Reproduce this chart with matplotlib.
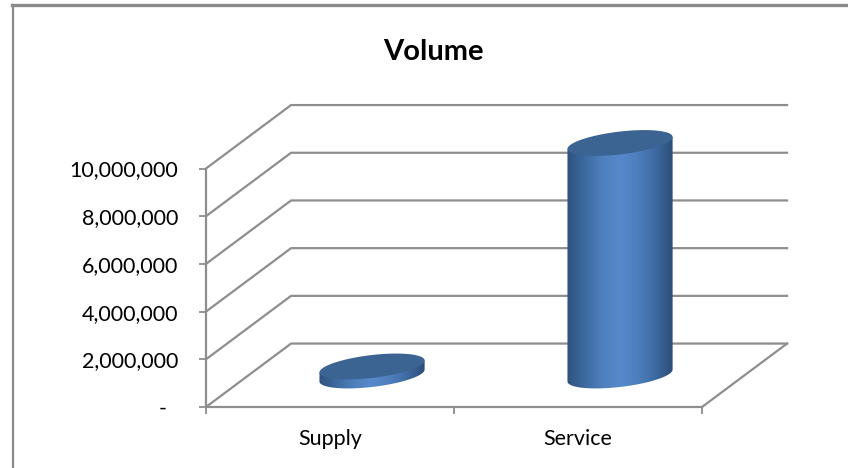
import numpy as np
import matplotlib
matplotlib.use("Agg")
import matplotlib.pyplot as plt
from matplotlib.colors import LinearSegmentedColormap
from matplotlib.lines import Line2D
from matplotlib.patches import Polygon

categories = ["Supply", "Service"]
volume = [380000, 9750000]
y_ticks = [0, 2000000, 4000000, 6000000, 8000000, 10000000]
y_labels = ["-  ", "2,000,000", "4,000,000", "6,000,000", "8,000,000", "10,000,000"]

GRID = "#8e8e8e"
plt.rcParams["font.family"] = ["Lato", "DejaVu Sans"]

# oblique depth of the fake 3d box, in data units
depth_x = 0.343
depth_y = 2660000
base_y = 1320000
cyl_rx = 0.212
cyl_ry = 480000
cyl_skew = 250000

fig = plt.figure(figsize=(8.48, 4.68), dpi=100)
ax = fig.add_axes([0, 0, 1, 1])
ax.patch.set_alpha(0)

# back wall gridlines and floor
for v in y_ticks:
    ax.plot([0, depth_x, 2 + depth_x], [v, v + depth_y, v + depth_y], color=GRID, lw=1.6, zorder=1)
ax.plot([2, 2 + depth_x], [0, depth_y], color=GRID, lw=1.6, zorder=1)

shade = LinearSegmentedColormap.from_list(
    "cyl", ["#2f5380", "#3d6aa0", "#4f80bd", "#5689cb", "#4d7fbd", "#3e6ba3", "#2c4d76"])
grad = np.linspace(0, 1, 200).reshape(1, -1)

t = np.linspace(0, 2 * np.pi, 200)
for i, h in enumerate(volume):
    xc = i + 0.5 + depth_x / 2 - 0.002
    ex = cyl_rx * np.cos(t)
    ey = cyl_skew * np.cos(t) + cyl_ry * np.sin(t)
    lower = np.sin(t) < 0
    # walk the outline from the left edge under the base to the right edge
    order = np.argsort(ex[lower])
    lx, ly = ex[lower][order], ey[lower][order]
    body_x = np.r_[xc + lx, xc + cyl_rx, xc - cyl_rx]
    body_y = np.r_[base_y + ly, base_y + h + cyl_skew, base_y + h - cyl_skew]
    body = Polygon(np.c_[body_x, body_y], closed=True, fc="none", ec="none", transform=ax.transData)
    ax.add_patch(body)
    im = ax.imshow(grad, cmap=shade, aspect="auto", zorder=3, interpolation="bilinear",
                   extent=[xc - cyl_rx, xc + cyl_rx, base_y - 2 * cyl_ry, base_y + h + 2 * cyl_ry])
    im.set_clip_path(body)
    ax.fill(xc + ex, base_y + h + ey, color="#3c6493", lw=0, zorder=4)

ax.set_xlim(-206 / 248, 642 / 248)
ax.set_ylim(-61 / 23.85e-6, 407 / 23.85e-6)

for side in ["top", "right"]:
    ax.spines[side].set_visible(False)
ax.spines["left"].set_position(("data", 0))
ax.spines["bottom"].set_position(("data", 0))
ax.spines["left"].set_bounds(0, 10000000)
ax.spines["bottom"].set_bounds(0, 2)
ax.spines["left"].set_color(GRID)
ax.spines["bottom"].set_color(GRID)
ax.spines["left"].set_linewidth(1.6)
ax.spines["bottom"].set_linewidth(1.6)

ax.set_yticks(y_ticks)
ax.set_yticklabels(y_labels)
ax.set_xticks([0, 1, 2])
ax.set_xticklabels([])
ax.set_xticks([0.5, 1.5], minor=True)
ax.set_xticklabels(categories, minor=True)
ax.tick_params(axis="y", length=5, width=1.3, color=GRID, pad=15, labelsize=15.5, labelcolor="black")
ax.tick_params(axis="x", which="major", length=5, width=1.3, color=GRID)
ax.tick_params(axis="x", which="minor", length=0, pad=16, labelsize=15.5, labelcolor="black")

fig.text(433 / 848, 1 - 52 / 468, "Volume", ha="center", va="center", fontsize=21, fontweight="bold")

# outer chart frame, only the top and left edges are in the crop
fig.add_artist(Line2D([12.5 / 848, 12.5 / 848], [0, 1 - 5 / 468], color="#8a8a8a", lw=1.6))
fig.add_artist(Line2D([12 / 848, 1], [1 - 5 / 468, 1 - 5 / 468], color="#8a8a8a", lw=2.4))

fig.savefig("out.png", dpi=100)
